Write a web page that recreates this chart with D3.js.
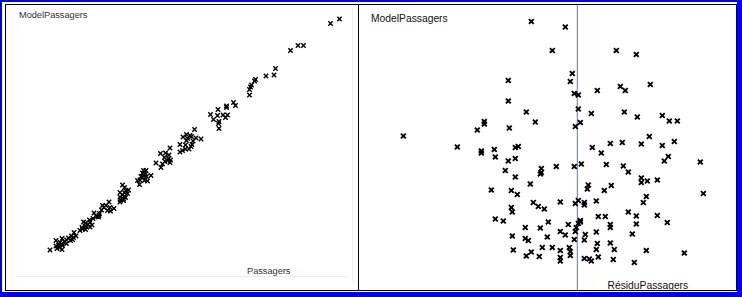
<!DOCTYPE html>
<html>
<head>
<meta charset="utf-8">
<script src="https://cdn.jsdelivr.net/npm/d3@7"></script>
<style>
  body { margin: 0; background: #fff; }
  text { font-family: "Liberation Sans", Arial, sans-serif; }
</style>
</head>
<body>
<div id="chart"></div>
<script>
// left panel: Passagers (x) vs ModelPassagers (y)
var passagers = [679,661,596,607,581,551,548,532,511,509,503,501,499,499,467,471,453,453,436,421,435,446,455,451,427,438,437,438,
  389,373,380,366,383,375,392,402,386,373,360,371,384,382,378,371,365,360,340,
  321,331,338,329,337,341,330,335,312,325,322,340,
  287,292,285,291,287,282,293,285,302,275,280,289,295,279,
  245,249,257,252,240,249,255,245,249,240,251,247,241,247,240,
  218,205,212,208,220,228,203,215,221,199,188,198,193,197,186,
  179,180,167,171,176,184,170,173,180,164,165,171,160,
  148,152,143,147,137,124,141,133,129,112,120,133,123,117,125,112,119,114,124,100,145];
var modelLeft = [562,553,509,509,499,463,450,448,441,438,430,426,421,410,395,389,388,385,381,371,369,370,370,365,361,357,353,343,
  341,331,329,326,327,323,324,322,318,319,311,310,311,307,302,302,299,296,304,
  293,294,290,285,283,280,277,279,274,272,265,275,
  259,259,254,252,249,247,247,245,249,239,240,239,238,231,
  230,225,220,218,215,215,213,210,207,206,205,202,200,199,196,
  196,189,189,185,185,183,180,179,178,173,174,169,167,166,163,
  160,155,156,154,151,150,147,146,146,145,142,141,139,
  135,128,128,125,124,123,119,120,117,119,115,113,112,110,109,108,105,103,101,100,121];

// right panel: RésiduPassagers (x) vs ModelPassagers (y)
var residu = [-23,-6,-12.5,19.5,29.5,-2.5,-3.5,-34.5,10,21.5,24,36.5,-1.5,0.5,-34.5,0.5,-25.5,7,23.5,30,42.5,46,50,
  -46.5,-46.5,-21,1.5,-1,-50,-34,-87,36,32,22.5,16.5,42.5,48.5,-60,-41.5,-31,-29.5,7.5,
  -48,-48,-41,-34.5,-31,-36,-31,-18,-18,-18.5,-10.5,-1.5,2,12,14.5,23,25.5,32,32,35,40,43.5,45.5,61.5,
  -43,-33,-30,-23.5,-22,-19.5,-16.5,-33,-32.5,-8.5,-1,0.5,3.5,3.5,9.5,5.5,5,13.5,17,34.5,33,25.5,29.5,29.5,40,45,63,
  -41,-37,-26,-18.5,-14.5,-4.5,1.5,1.5,0.5,-0.5,-1,10.5,14,16.5,16.5,
  -32.5,-26,-24.5,-15,-8.5,-6,-1.5,4,3.5,9.5,27.5,
  -32,-25.5,-23,-19,-17.5,-12.5,-8.5,-8.5,-8.5,-4,-3.5,-3.5,3.5,6,7,10,9.5,10.5,16.5,18.5,18,28.5,34.5,53.5];
var modelRight = [557,546,499,499,491,453,437,439,419,427,419,431,413,410,398,382,376,373,376,366,369,358,358,
  357,352,356,355,347,340,344,328,327,312,315,313,309,317,306,301,305,307,305,
  294,298,286,278,283,259,246,263,255,252,267,267,272,294,271,268,256,244,235,238,240,278,287,276,
  220,219,211,232,195,187,182,185,176,196,193,199,195,190,198,230,222,219,229,207,195,176,168,152,169,155,213,
  162,158,145,144,156,151,159,156,153,145,137,167,167,151,145,
  128,123,119,126,137,130,121,131,120,136,132,
  100,88,96,87,105,105,99,85,78,105,97,89,83,82,78,113,101,86,114,101,81,75,99,94];

var svg = d3.select("#chart").append("svg")
  .attr("width", 742)
  .attr("height", 297);

// outer blue frame and black panel borders
svg.append("rect").attr("width", 742).attr("height", 297).attr("fill", "#0000f0");
svg.append("rect").attr("x", 2).attr("y", 2).attr("width", 735).attr("height", 290).attr("fill", "#fff");
svg.append("rect").attr("x", 5.5).attr("y", 4.5).attr("width", 731).attr("height", 286)
  .attr("fill", "none").attr("stroke", "#000");
svg.append("line").attr("x1", 358.5).attr("x2", 358.5).attr("y1", 4.5).attr("y2", 290.5)
  .attr("stroke", "#000");

var crossL = "M-2.2,-2.2L2.2,2.2M2.2,-2.2L-2.2,2.2";
var crossR = "M-2.4,-2.4L2.4,2.4M2.4,-2.4L-2.4,2.4";

// ---- left panel
var xL = d3.scaleLinear().domain([0, 700]).range([0, 350]);
var yL = d3.scaleLinear().domain([0, 600]).range([300, 0]);

svg.append("line").attr("x1", 16).attr("x2", 347).attr("y1", 276.5).attr("y2", 276.5)
  .attr("stroke", "#ececec");
svg.append("line").attr("x1", 352.5).attr("x2", 352.5).attr("y1", 8).attr("y2", 282)
  .attr("stroke", "#f2f2f2");

var left = passagers.map(function(p, i){ return {x: p, y: modelLeft[i]}; });
svg.append("g").selectAll("path").data(left).enter().append("path")
  .attr("d", crossL)
  .attr("transform", function(d){ return "translate(" + xL(d.x) + "," + yL(d.y) + ")"; })
  .attr("stroke", "#000")
  .attr("stroke-width", 1.4)
  .attr("fill", "none");

svg.append("text").attr("x", 19).attr("y", 17.5)
  .attr("font-size", "9.2px").attr("fill", "#333").text("ModelPassagers");
svg.append("text").attr("x", 247).attr("y", 273.5)
  .attr("font-size", "9.2px").attr("fill", "#333").text("Passagers");

// ---- right panel
var xR = d3.scaleLinear().domain([-100, 100]).range([377.3, 777.3]);
var yR = d3.scaleLinear().domain([0, 600]).range([300, 0]);

svg.append("line").attr("x1", xR(0)).attr("x2", xR(0)).attr("y1", 5).attr("y2", 290)
  .attr("stroke", "#6a72b8");

var right = residu.map(function(r, i){ return {x: r, y: modelRight[i]}; });
svg.append("g").selectAll("path").data(right).enter().append("path")
  .attr("d", crossR)
  .attr("transform", function(d){ return "translate(" + xR(d.x) + "," + yR(d.y) + ")"; })
  .attr("stroke", "#000")
  .attr("stroke-width", 1.9)
  .attr("fill", "none");

svg.append("text").attr("x", 371).attr("y", 21.5)
  .attr("font-size", "10.3px").attr("fill", "#111").text("ModelPassagers");
svg.append("text").attr("x", 607.5).attr("y", 288.5)
  .attr("font-size", "10.3px").attr("fill", "#111").text("RésiduPassagers");
</script>
</body>
</html>
